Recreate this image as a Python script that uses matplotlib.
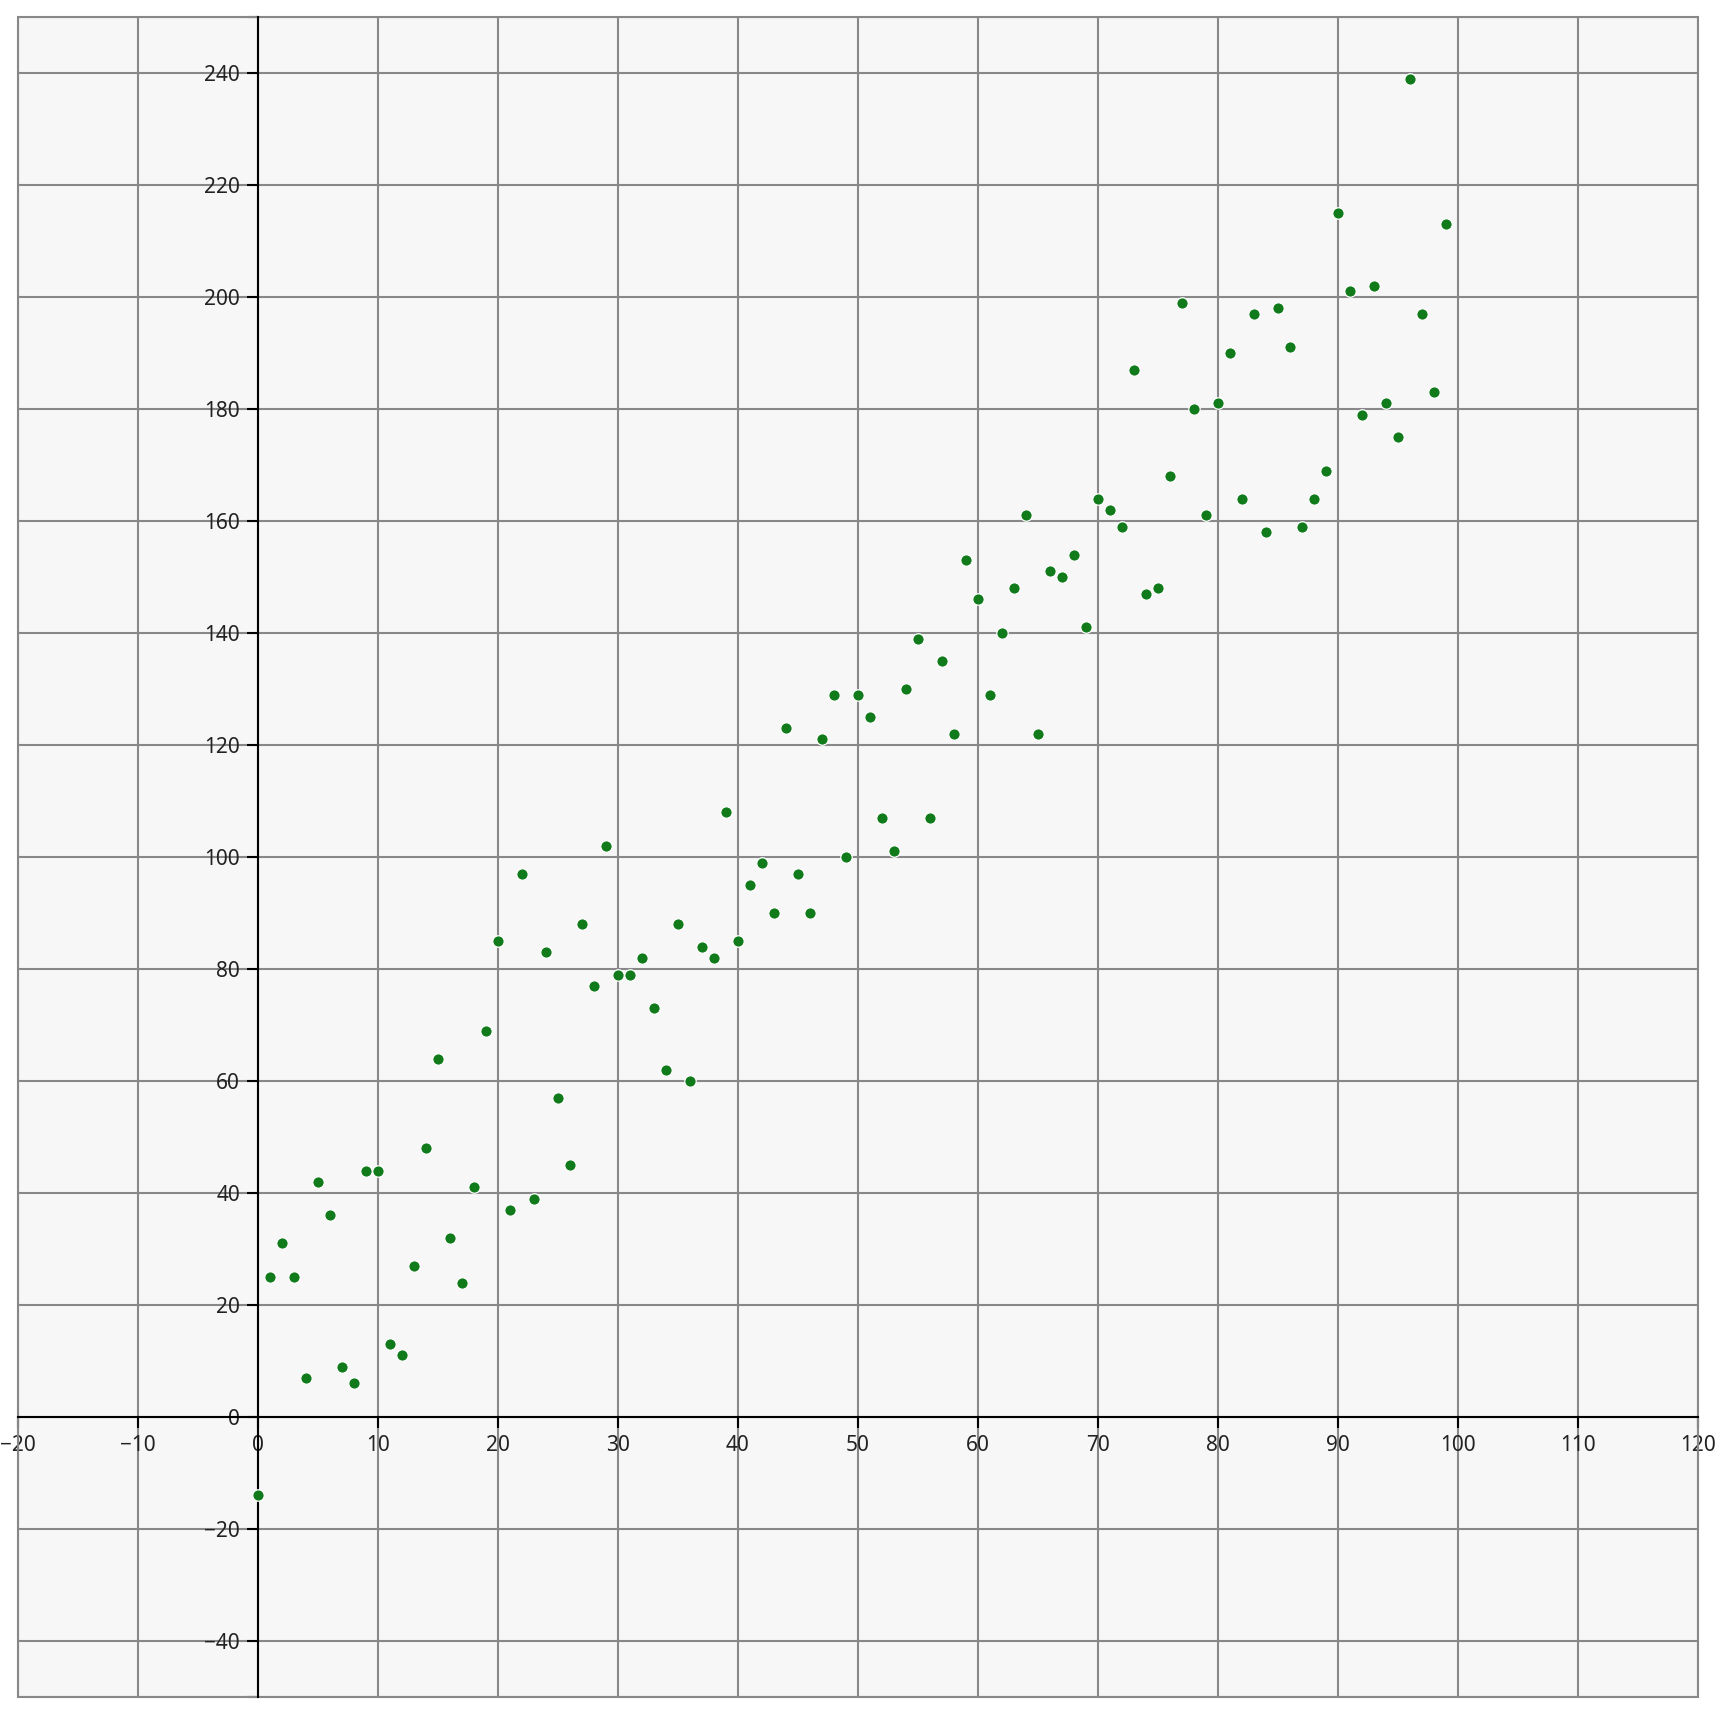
import matplotlib
matplotlib.use("Agg")
from matplotlib import pyplot as plt
from matplotlib.patches import Rectangle

# scatter data
x_values = list(range(100))
y_values = [
    -14, 25, 31, 25, 7, 42, 36, 9, 6, 44,
    44, 13, 11, 27, 48, 64, 32, 24, 41, 69,
    85, 37, 97, 39, 83, 57, 45, 88, 77, 102,
    79, 79, 82, 73, 62, 88, 60, 84, 82, 108,
    85, 95, 99, 90, 123, 97, 90, 121, 129, 100,
    129, 125, 107, 101, 130, 139, 107, 135, 122, 153,
    146, 129, 140, 148, 161, 122, 151, 150, 154, 141,
    164, 162, 159, 187, 147, 148, 168, 199, 180, 161,
    181, 190, 164, 197, 158, 198, 191, 159, 164, 169,
    215, 201, 179, 202, 181, 175, 239, 197, 183, 213,
]

x_ticks = list(range(-20, 121, 10))
y_ticks = [-50] + list(range(-40, 241, 20)) + [250]
y_tick_labels = ["" if v in (-50, 250) else str(v) for v in y_ticks]

plt.rcParams["font.family"] = ["Noto Sans", "DejaVu Sans"]

W = 1722
fig = plt.figure(figsize=(W / 100, W / 100), dpi=100)
ax = fig.add_axes([18 / W, 25 / W, 1680 / W, 1680 / W])
ax.set_facecolor("#f7f7f7")
ax.set_xlim(-20, 120)
ax.set_ylim(-50, 250)

# grid
ax.set_axisbelow(True)
ax.grid(True, color="#888888", linewidth=1.5)

# axes crossing at zero
ax.spines["left"].set_position(("data", 0))
ax.spines["bottom"].set_position(("data", 0))
for side in ["left", "bottom"]:
    ax.spines[side].set_color("black")
    ax.spines[side].set_linewidth(1.5)
    ax.spines[side].set_zorder(3)
for side in ["top", "right"]:
    ax.spines[side].set_visible(False)

# outer frame
ax.add_patch(Rectangle((0, 0), 1, 1, transform=ax.transAxes, fill=False,
                       edgecolor="#888888", linewidth=1.5, zorder=2.5, clip_on=False))

ax.set_xticks(x_ticks)
ax.set_xticklabels([str(v).replace("-", "\u2212") for v in x_ticks])
ax.set_yticks(y_ticks)
ax.set_yticklabels([s.replace("-", "\u2212") for s in y_tick_labels])
ax.tick_params(axis="both", direction="out", length=8, width=1.5, color="black",
               labelsize=15, labelcolor="#222222", pad=5)

ax.scatter(x_values, y_values, s=68, color="#117a1a", edgecolors="white",
           linewidths=0.9, zorder=4, clip_on=False)

fig.savefig("out.png", dpi=100)
